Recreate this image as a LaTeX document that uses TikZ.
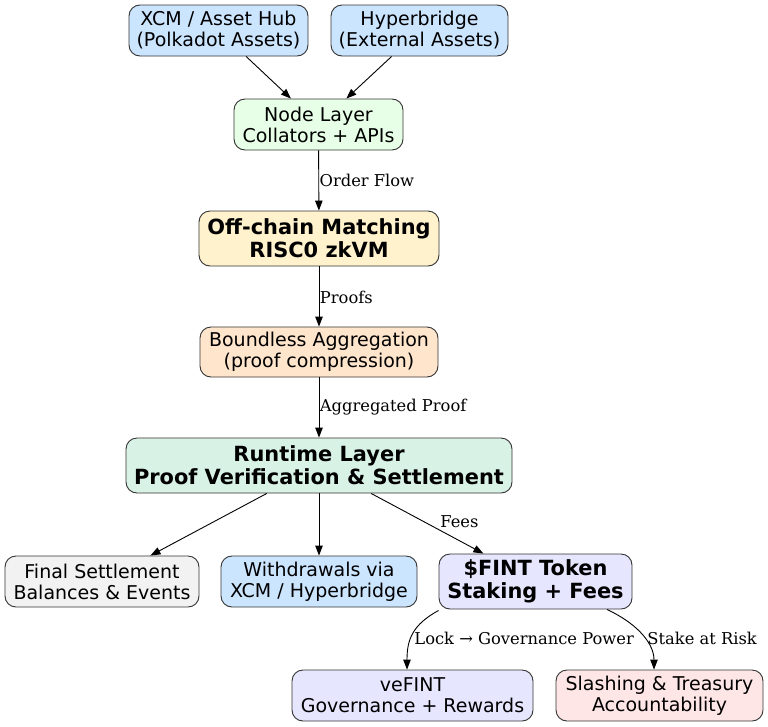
\documentclass[tikz,border=0pt]{standalone}
\usepackage{fontspec}
\setmainfont{DejaVu Sans}
\newfontfamily\lblfont{DejaVu Serif}
\usetikzlibrary{arrows.meta}
\definecolor{cBlue}{HTML}{CCE5FF}
\definecolor{cGreen}{HTML}{E6FFE6}
\definecolor{cYellow}{HTML}{FFF2CC}
\definecolor{cOrange}{HTML}{FFE5CC}
\definecolor{cTeal}{HTML}{D9F2E6}
\definecolor{cGray}{HTML}{F2F2F2}
\definecolor{cLav}{HTML}{E6E6FF}
\definecolor{cPink}{HTML}{FFE6E6}
\definecolor{cLine}{HTML}{333333}
\tikzset{
  box/.style={draw=cLine, line width=0.9pt, rounded corners=11pt, align=center, inner sep=0pt,
    font=\fontsize{19pt}{21pt}\selectfont},
  boldbox/.style={box, font=\fontsize{20.9pt}{23pt}\selectfont\bfseries},
  arr/.style={-{Triangle[length=10pt,width=7.5pt]}, line width=0.9pt, draw=black},
  lbl/.style={font=\lblfont\fontsize{16.3pt}{18pt}\selectfont, inner sep=0pt},
}
\begin{document}
\begin{tikzpicture}[x=1pt,y=-1pt]
\useasboundingbox (0,0) rectangle (768,726);
\node[box, fill=cBlue, minimum width=179pt, minimum height=51pt] (xcm) at (218.5,30.5) {XCM / Asset Hub\\(Polkadot Assets)};
\node[box, fill=cBlue, minimum width=177pt, minimum height=51pt] (hyp) at (419.5,30.5) {Hyperbridge\\(External Assets)};
\node[box, fill=cGreen, minimum width=169pt, minimum height=51pt] (nodel) at (318.5,124.5) {Node Layer\\Collators + APIs};
\node[boldbox, fill=cYellow, minimum width=240pt, minimum height=55pt] (off) at (319,238.5) {Off-chain Matching\\RISC0 zkVM};
\node[box, fill=cOrange, minimum width=238pt, minimum height=50pt] (bnd) at (319,352) {Boundless Aggregation\\(proof compression)};
\node[boldbox, fill=cTeal, minimum width=386pt, minimum height=55pt] (rt) at (319,465.5) {Runtime Layer\\Proof Verification \& Settlement};
\node[box, fill=cGray, minimum width=194pt, minimum height=51pt] (fin) at (102,581.5) {Final Settlement\\Balances \& Events};
\node[box, fill=cBlue, minimum width=196pt, minimum height=51pt] (wd) at (319,581.5) {Withdrawals via\\XCM / Hyperbridge};
\node[boldbox, fill=cLav, minimum width=193pt, minimum height=55pt] (fint) at (535.5,581.5) {\$FINT Token\\Staking + Fees};
\node[box, fill=cLav, minimum width=241pt, minimum height=51pt] (ve) at (412.5,695.5) {veFINT\\Governance + Rewards};
\node[box, fill=cPink, minimum width=207pt, minimum height=51pt] (sl) at (659.5,695.5) {Slashing \& Treasury\\Accountability};

\draw[arr] (xcm) -- (nodel);
\draw[arr] (hyp) -- (nodel);
\draw[arr] (nodel) -- node[lbl, anchor=west, xshift=0.5pt] {Order Flow} (off);
\draw[arr] (off) -- node[lbl, anchor=west, xshift=0.5pt, yshift=-1pt] {Proofs} (bnd);
\draw[arr] (bnd) -- node[lbl, anchor=west, xshift=0.5pt, yshift=0pt] {Aggregated Proof} (rt);
\draw[arr] (rt) -- (fin);
\draw[arr] (rt) -- (wd);
\draw[arr] (rt) -- node[lbl, pos=0.55, anchor=south west, xshift=7pt, yshift=-2pt] {Fees} (fint);
\draw[arr] ([xshift=0pt,yshift=-1pt]fint.south west) .. controls (412,625) and (407,640) .. ([xshift=-5.5pt]ve.north)
  node[lbl, anchor=west] at (414,638) {Lock → Governance Power};
\draw[arr] ([xshift=71.5pt]fint.south) .. controls (640,625) and (654,645) .. ([xshift=-5.5pt]sl.north)
  node[lbl, anchor=west] at (647,638) {Stake at Risk};
\end{tikzpicture}
\end{document}
